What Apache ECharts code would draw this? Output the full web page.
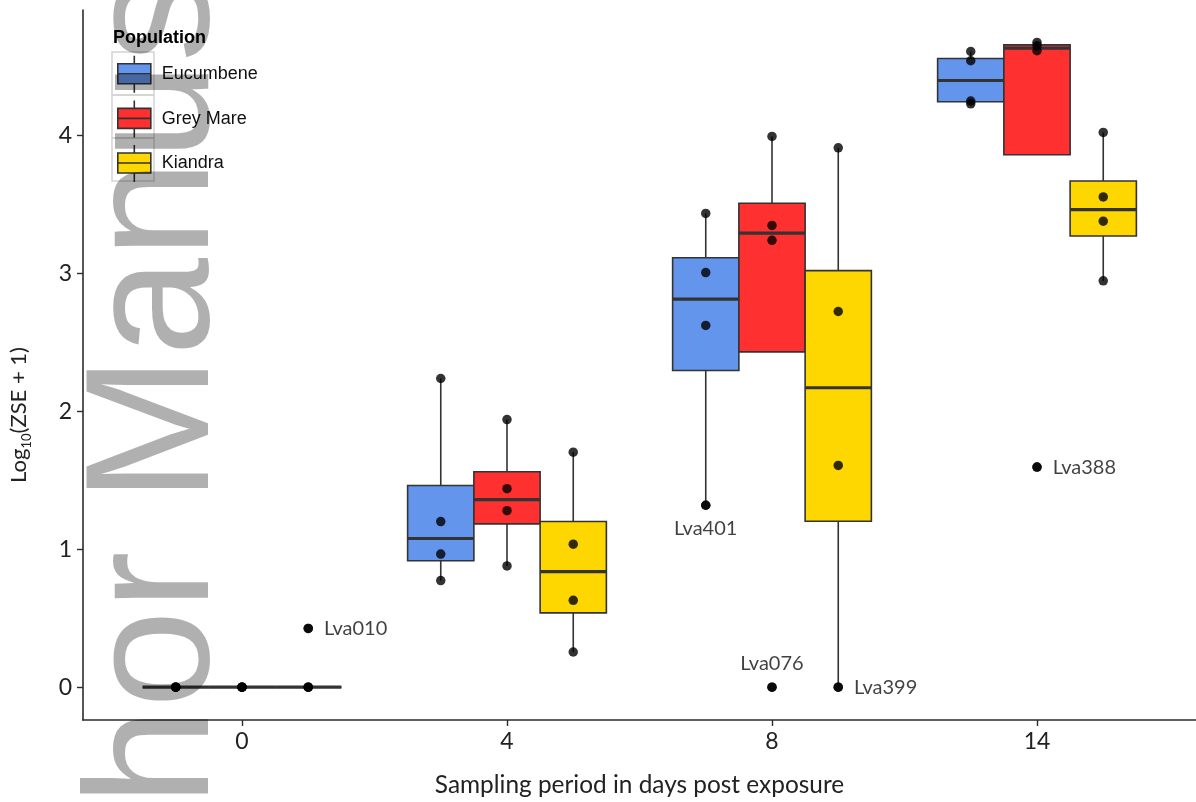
<!DOCTYPE html>
<html><head><meta charset="utf-8">
<script src="https://cdn.jsdelivr.net/npm/echarts@6/dist/echarts.min.js"></script>
<style>html,body{margin:0;padding:0;background:#fff}#c{width:1196px;height:802px}</style>
</head><body><div id="c"></div>
<script>
// ---- data ----
const days = ['0', '4', '8', '14'];
const populations = ['Eucumbene', 'Grey Mare', 'Kiandra'];
const popColors = ['#6495ED', '#FF3030', '#FFD700'];
// box statistics per day: [lower whisker, Q1, median, Q3, upper whisker]
const eucumbeneBox = [[0,0,0,0,0],[0.773,0.917,1.078,1.462,2.238],[1.319,2.296,2.813,3.114,3.435],[4.23,4.245,4.399,4.558,4.61]];
const greyMareBox  = [[0,0,0,0,0],[0.879,1.184,1.36,1.562,1.94],[3.24,2.431,3.292,3.509,3.993],[4.615,3.861,4.633,4.657,4.675]];
const kiandraBox   = [[0,0,0,0,0],[0.255,0.539,0.838,1.201,1.704],[0,1.203,2.171,3.02,3.911],[2.946,3.271,3.463,3.67,4.022]];
// individual observations per day
const eucumbenePoints = [[0,0,0,0],[2.238,1.201,0.965,0.773],[3.435,3.006,2.623,1.319],[4.609,4.542,4.25,4.23]];
const greyMarePoints  = [[0,0,0,0],[1.94,1.439,1.28,0.879],[3.993,3.348,3.24,0],[4.675,4.651,4.615,1.596]];
const kiandraPoints   = [[0,0,0,0.426],[1.704,1.037,0.63,0.255],[3.911,2.724,1.608,0],[4.022,3.555,3.379,2.946]];
// labelled samples
const labelNames = ['Lva010', 'Lva401', 'Lva076', 'Lva399', 'Lva388'];
const labelPopulation = ['Kiandra', 'Eucumbene', 'Grey Mare', 'Kiandra', 'Grey Mare'];
const labelDay = ['0', '8', '8', '8', '14'];
const labelValue = [0.426, 1.319, 0, 0, 1.596];
const labelSide = ['right', 'bottom', 'top', 'right', 'right'];
const yTicks = [0, 1, 2, 3, 4];
const xTitle = 'Sampling period in days post exposure';

// ---- build options ----
const boxes = [eucumbeneBox, greyMareBox, kiandraBox];
const points = [eucumbenePoints, greyMarePoints, kiandraPoints];
const dodge = 0.25; // ggplot dodge width 0.75 split in 3
const xOf = (dayIdx, popIdx) => dayIdx + (popIdx - 1) * dodge;
const calibri = 'Lato, "Open Sans", sans-serif';
const arial = '"Liberation Sans", Arial, sans-serif';

const series = [];
populations.forEach((pop, p) => {
  series.push({
    name: pop,
    type: 'custom',
    z: 2,
    encode: { x: 0, y: [1, 2, 3, 4, 5] },
    data: boxes[p].map((b, d) => [xOf(d, p)].concat(b)),
    renderItem: function (params, api) {
      const x = api.value(0);
      const lo = api.coord([x, api.value(1)]);
      const q1 = api.coord([x, api.value(2)]);
      const md = api.coord([x, api.value(3)]);
      const q3 = api.coord([x, api.value(4)]);
      const hi = api.coord([x, api.value(5)]);
      const hw = api.size([dodge, 0])[0] / 2;
      const ls = { stroke: '#333333', lineWidth: 1.6 };
      return {
        type: 'group',
        children: [
          { type: 'line', shape: { x1: lo[0], y1: lo[1], x2: q1[0], y2: q1[1] }, style: ls },
          { type: 'line', shape: { x1: hi[0], y1: hi[1], x2: q3[0], y2: q3[1] }, style: ls },
          { type: 'rect', shape: { x: q3[0] - hw, y: q3[1], width: hw * 2, height: q1[1] - q3[1] },
            style: { fill: api.visual('color'), stroke: '#333333', lineWidth: 1.6 } },
          { type: 'line', shape: { x1: md[0] - hw, y1: md[1], x2: md[0] + hw, y2: md[1] },
            style: { stroke: '#333333', lineWidth: 3.2 } }
        ]
      };
    }
  });
});
populations.forEach((pop, p) => {
  const data = [];
  points[p].forEach((vals, d) => vals.forEach(v => data.push([xOf(d, p), v])));
  series.push({
    name: pop + ' samples', type: 'scatter', z: 5, symbolSize: 9.5,
    itemStyle: { color: '#000' }, data: data
  });
});
series.push({
  name: 'labels', type: 'scatter', z: 6, symbolSize: 9.5,
  itemStyle: { color: '#000' },
  label: { show: true, formatter: '{b}', color: '#111', fontFamily: calibri, fontSize: 20 },
  data: labelNames.map((n, i) => ({
    name: n,
    value: [xOf(days.indexOf(labelDay[i]), populations.indexOf(labelPopulation[i])), labelValue[i]],
    label: { position: labelSide[i], distance: labelSide[i] === 'right' ? 11 : 9 }
  }))
});

const chart = echarts.init(document.getElementById('c'), null, { renderer: 'canvas' });
chart.setOption({
  animation: false,
  color: popColors,
  backgroundColor: '#ffffff',
  grid: { left: 83, right: 0, top: 10, bottom: 79 },
  title: { text: 'Population', left: 108, top: 24,
    textStyle: { fontFamily: arial, fontSize: 18, fontWeight: 'bold', color: '#000' } },
  legend: {
    data: populations, orient: 'vertical', left: 117, top: 55, padding: 0,
    itemWidth: 33, itemHeight: 37, itemGap: 6,
    icon: 'path://M16.5,0L16.5,8M0,8L33,8L33,28L0,28ZM0,18L33,18M16.5,28L16.5,37',
    itemStyle: { borderColor: '#333333', borderWidth: 1.6 },
    textStyle: { fontFamily: arial, fontSize: 18, color: '#111', padding: [0, 0, 0, 6] },
    selectedMode: false
  },
  xAxis: {
    type: 'value', min: -0.6, max: 3.6,
    name: xTitle, nameLocation: 'middle', nameGap: 53,
    nameTextStyle: { fontFamily: calibri, fontSize: 24.4, color: '#222' },
    splitLine: { show: false },
    axisLine: { show: true, onZero: false, lineStyle: { color: '#2b2b2b', width: 1.6 } },
    axisTick: { show: true, length: 6, customValues: [0, 1, 2, 3], lineStyle: { color: '#2b2b2b', width: 1.4 } },
    axisLabel: { customValues: [0, 1, 2, 3], formatter: v => days[Math.round(v)], margin: 10,
      fontFamily: calibri, fontSize: 23, color: '#222' }
  },
  yAxis: {
    type: 'value', min: -0.238, max: 4.91,
    name: '{a|Log}{s|10}{a|(ZSE + 1)}', nameLocation: 'middle', nameGap: 50, nameRotate: 90,
    nameTextStyle: { padding: [0, 100, 0, 0], rich: {
      a: { fontFamily: calibri, fontSize: 22, color: '#222', lineHeight: 28, verticalAlign: 'middle' },
      s: { fontFamily: calibri, fontSize: 13, color: '#222', lineHeight: 28, verticalAlign: 'bottom' }
    } },
    splitLine: { show: false },
    axisLine: { show: true, onZero: false, lineStyle: { color: '#2b2b2b', width: 1.6 } },
    axisTick: { show: true, length: 6, customValues: yTicks, lineStyle: { color: '#2b2b2b', width: 1.4 } },
    axisLabel: { customValues: yTicks, margin: 11, fontFamily: calibri, fontSize: 23, color: '#222' }
  },
  graphic: [
    { type: 'rect', shape: { x: 112, y: 52, width: 42, height: 43 }, style: { fill: 'none', stroke: '#d4d4d4', lineWidth: 1.5 }, z: -1 },
    { type: 'rect', shape: { x: 112, y: 95, width: 42, height: 43 }, style: { fill: 'none', stroke: '#d4d4d4', lineWidth: 1.5 }, z: -1 },
    { type: 'rect', shape: { x: 112, y: 138, width: 42, height: 43 }, style: { fill: 'none', stroke: '#d4d4d4', lineWidth: 1.5 }, z: -1 },
    { type: 'text', x: 159, y: 1070, rotation: Math.PI / 2, z: 100, silent: true,
      style: { text: 'Author Manuscript', font: '176px "Liberation Sans", Arial, sans-serif',
        fill: 'rgba(0,0,0,0.31)', align: 'left', verticalAlign: 'middle' } }
  ],
  series: series
});
</script></body></html>
